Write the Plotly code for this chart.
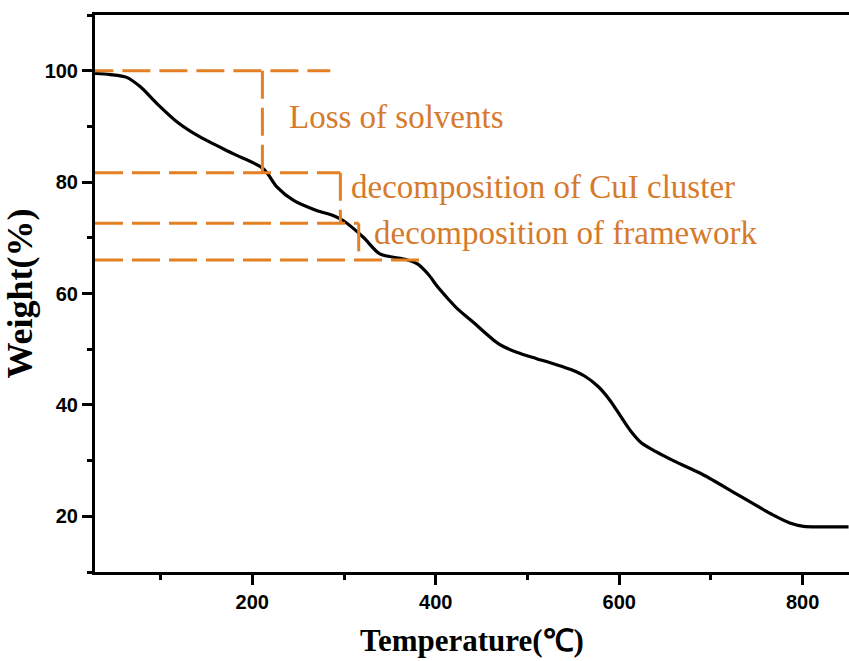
import plotly.graph_objects as go

# TGA curve: temperature (°C) vs remaining weight (%)
temperature = [28.5, 45, 63, 78, 96, 118, 143, 179, 212, 227, 245, 270, 288, 299,
               321, 339, 365, 380, 392, 402, 412, 424, 439, 469, 489, 510, 530, 548,
               563, 577, 590, 603, 614, 624, 640, 660, 691, 729, 767, 786, 801, 820, 850]
weight = [99.5, 99.3, 98.8, 97.1, 94.1, 90.8, 88.1, 85.1, 82.4, 79.1, 76.7, 74.9,
          74.0, 73.1, 70.1, 67.1, 66.2, 65.3, 63.4, 61.2, 59.3, 57.2, 55.1, 50.9,
          49.4, 48.3, 47.3, 46.3, 45.1, 43.3, 40.8, 37.6, 35.0, 33.2, 31.6, 29.9,
          27.5, 23.9, 20.3, 18.8, 18.2, 18.1, 18.1]

# Weight-loss steps marked with dashed guide lines
step_levels = [100, 81.7, 72.6, 66]
step_hline_start = [18, 28.5, 28.5, 28.5]
step_hline_end = [285, 296, 316, 390]
step_vline_x = [211, 296, 316]

# Step labels
step_labels = ["Loss of solvents", "decomposition of CuI cluster", "decomposition of framework"]
step_label_x = [238, 305, 331]
step_label_y = [91.6, 79.1, 70.8]

x_range = [28.5, 850.5]
y_range = [10, 110]

LINE_ORANGE = "#E47F24"
TEXT_ORANGE = "#D67A2C"
DASH = "28px,9px"

fig = go.Figure()
fig.add_trace(go.Scatter(
    x=temperature, y=weight, mode="lines",
    line=dict(color="black", width=3.2, shape="spline", smoothing=0.8),
    showlegend=False, hoverinfo="skip",
))

shapes = []
for lvl, x0, x1 in zip(step_levels, step_hline_start, step_hline_end):
    shapes.append(dict(type="line", xref="x", yref="y", x0=x0, x1=x1, y0=lvl, y1=lvl,
                       line=dict(color=LINE_ORANGE, width=3, dash=DASH)))
for i, vx in enumerate(step_vline_x):
    shapes.append(dict(type="line", xref="x", yref="y", x0=vx, x1=vx,
                       y0=step_levels[i], y1=step_levels[i + 1],
                       line=dict(color=LINE_ORANGE, width=3, dash=DASH)))

annotations = []
for txt, ax, ay in zip(step_labels, step_label_x, step_label_y):
    annotations.append(dict(x=ax, y=ay, xref="x", yref="y", text=txt, showarrow=False,
                            xanchor="left", yanchor="middle",
                            font=dict(family="Liberation Serif", size=33, color=TEXT_ORANGE)))

tick_font = dict(family="Liberation Sans", size=20, color="black", weight="bold")
x_title_font = dict(family="Liberation Serif", size=31, color="black", weight="bold")
y_title_font = dict(family="Liberation Serif", size=36, color="black", weight="bold")

fig.update_layout(
    width=849, height=661,
    margin=dict(l=95, r=0, t=15, b=89),
    paper_bgcolor="white", plot_bgcolor="white",
    shapes=shapes, annotations=annotations,
    xaxis=dict(
        range=x_range, showgrid=False, zeroline=False,
        showline=True, linecolor="black", linewidth=3, mirror=True,
        ticks="outside", ticklen=10, tickwidth=2.5, tickcolor="black",
        tick0=0, dtick=200, tickfont=tick_font,
        minor=dict(ticks="outside", ticklen=5, tickwidth=2.5, tickcolor="black", dtick=100, showgrid=False),
        title=dict(text="Temperature(℃)", font=x_title_font, standoff=18),
    ),
    yaxis=dict(
        range=y_range, showgrid=False, zeroline=False,
        showline=True, linecolor="black", linewidth=3, mirror=False,
        ticks="outside", ticklen=10, tickwidth=2.5, tickcolor="black",
        tick0=0, dtick=20, tickfont=tick_font,
        minor=dict(ticks="outside", ticklen=5, tickwidth=2.5, tickcolor="black", dtick=10, showgrid=False),
        title=dict(text="Weight(%)", font=y_title_font, standoff=4),
    ),
)

fig.write_html("out.html")
